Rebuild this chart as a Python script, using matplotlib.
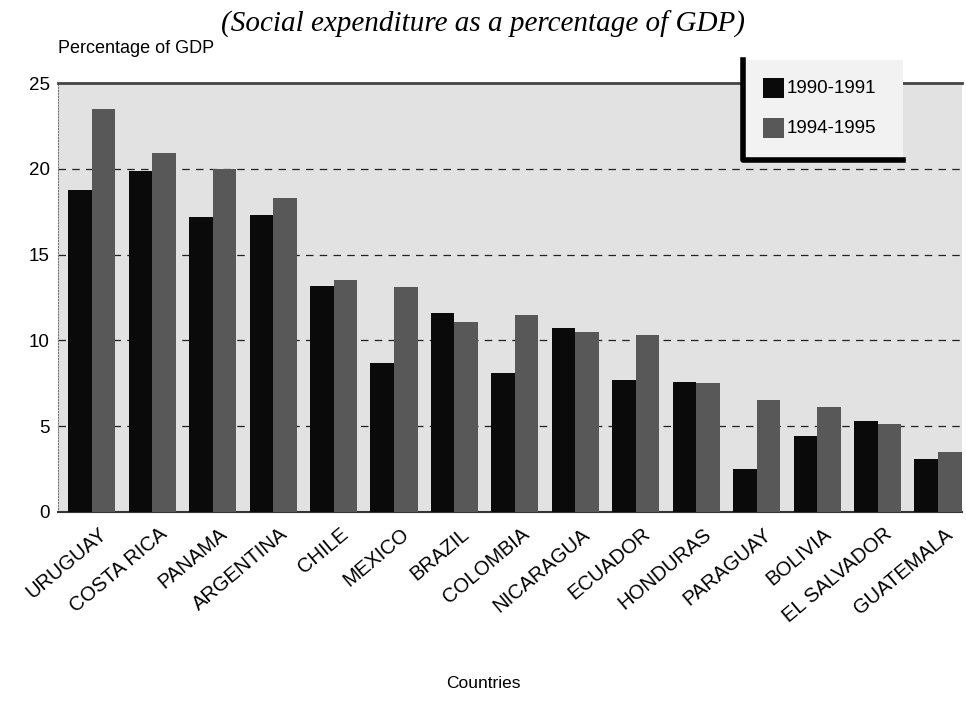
import numpy as np
import matplotlib
matplotlib.use("Agg")
import matplotlib.pyplot as plt
from matplotlib.patches import Rectangle
from matplotlib.lines import Line2D

countries = ["URUGUAY", "COSTA RICA", "PANAMA", "ARGENTINA", "CHILE", "MEXICO",
             "BRAZIL", "COLOMBIA", "NICARAGUA", "ECUADOR", "HONDURAS", "PARAGUAY",
             "BOLIVIA", "EL SALVADOR", "GUATEMALA"]
p1990 = [18.8, 19.9, 17.2, 17.3, 13.2, 8.7, 11.6, 8.1, 10.7, 7.7, 7.6, 2.5, 4.4, 5.3, 3.1]
p1994 = [23.5, 20.9, 20.0, 18.3, 13.5, 13.1, 11.1, 11.5, 10.5, 10.3, 7.5, 6.5, 6.1, 5.1, 3.5]
labels = ["1990-1991", "1994-1995"]

plt.rcParams["font.family"] = ["Liberation Sans", "DejaVu Sans"]

fig = plt.figure(figsize=(9.66, 7.17), dpi=100)
ax = fig.add_axes([0.060, 0.286, 0.936, 0.598])
ax.set_facecolor("#e2e2e2")

x = np.arange(len(countries))
w = 0.39
ax.bar(x - w / 2, p1990, w, color="#0a0a0a", zorder=3)
ax.bar(x + w / 2, p1994, w, color="#585858", zorder=3)

ax.set_ylim(0, 25)
ax.set_xlim(-0.56, 14.4)
ax.set_yticks([0, 5, 10, 15, 20, 25])
for yv in [5, 10, 15, 20]:
    ax.axhline(yv, color="#222222", linestyle=(0, (6, 5)), linewidth=0.9, zorder=2)

ax.tick_params(axis="y", length=0, labelsize=13.5, pad=6)
ax.tick_params(axis="x", length=0, pad=9)
ax.set_xticks(x + 0.1)
ax.set_xticklabels(countries, rotation=40, ha="right", rotation_mode="anchor", fontsize=14.5)

ax.spines["right"].set_visible(False)
ax.spines["top"].set_color("#444444")
ax.spines["top"].set_linewidth(2)
ax.spines["left"].set_color("#777777")
ax.spines["left"].set_linestyle(":")
ax.spines["bottom"].set_color("#333333")
ax.spines["bottom"].set_linewidth(1.5)

fig.text(0.5, 0.966, "(Social expenditure as a percentage of GDP)", ha="center", va="center",
         fontsize=21, style="italic", family=["Liberation Serif", "DejaVu Serif"])
fig.text(0.060, 0.933, "Percentage of GDP", ha="left", va="center", fontsize=13)
fig.text(0.5, 0.047, "Countries", ha="center", va="center", fontsize=12.5)

# legend box with thick left/bottom border
lx0, lx1, ly0, ly1 = 0.769, 0.935, 0.777, 0.916
fig.patches.append(Rectangle((lx0, ly0), lx1 - lx0, ly1 - ly0, transform=fig.transFigure,
                             facecolor="#f2f2f2", edgecolor="none", zorder=5))
fig.lines.append(Line2D([lx0, lx0, lx1], [ly1, ly0, ly0], transform=fig.transFigure,
                        color="black", linewidth=4, zorder=6))
for i, (lab, col) in enumerate(zip(labels, ["#0a0a0a", "#585858"])):
    yc = 0.877 - i * 0.056
    fig.patches.append(Rectangle((0.790, yc - 0.014), 0.022, 0.028, transform=fig.transFigure,
                                 facecolor=col, edgecolor="none", zorder=6))
    fig.text(0.814, yc, lab, ha="left", va="center", fontsize=13.5, zorder=7)

fig.savefig("out.png", dpi=100)
